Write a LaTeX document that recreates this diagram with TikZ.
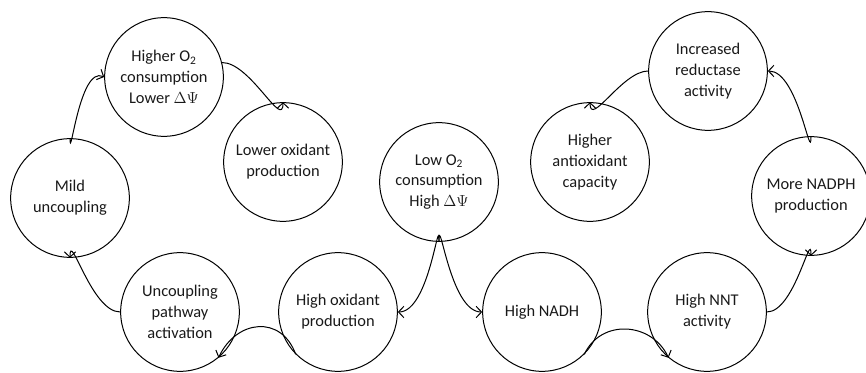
\documentclass[tikz,border=0pt]{standalone}
\usepackage{fontspec}
\setmainfont{Carlito}
\usetikzlibrary{arrows.meta}

\tikzset{every picture/.style={line width=0.75pt}}
\tikzset{
  bubble/.style={circle, draw, minimum size=89pt, inner sep=0pt, align=center,
    font=\fontsize{12.3}{15.6}\selectfont, text=black!90},
  flow/.style={-{Straight Barb[length=4pt,width=8.5pt]}}
}

\begin{document}
\begin{tikzpicture}[x=0.75pt,y=0.75pt,yscale=-1,xscale=1]

\clip (0,0) rectangle (866,373);

% left loop
\node [bubble] (higher) at (164,77) {Higher O\textsubscript{2}\\consumption\\Lower $\Delta\Psi$};
\node [bubble] (lower) at (283,162) {Lower oxidant\\production};
\node [bubble] (mild) at (70,198) {Mild\\uncoupling};
\node [bubble] (uncpl) at (180,312) {Uncoupling\\pathway\\activation};
\node [bubble] (hiox) at (338,312) {High oxidant\\production};
% middle
\node [bubble] (lowox) at (439,182) {Low O\textsubscript{2}\\consumption\\High $\Delta\Psi$};
% right loop
\node [bubble] (anti) at (590,162) {Higher\\antioxidant\\capacity};
\node [bubble] (nadh) at (542,312) {High NADH};
\node [bubble] (nnt) at (707,312) {High NNT\\activity};
\node [bubble] (nadph) at (811,196) {More NADPH\\production};
\node [bubble] (reduct) at (708,71) {Increased\\reductase\\activity};

\draw [flow] (lowox.south) to[out=-90,in=0] (hiox.east);
\draw [flow] (lowox.south) to[out=-90,in=180] (nadh.west);

\draw [flow] (hiox.-135) to[out=-110,in=-65,looseness=1.4] (uncpl.-50);
\draw [flow] (uncpl.west) to[out=180,in=-90] (mild.south);
\draw [flow] (mild.north) to[out=90,in=205] (higher.west);
\draw [flow] (higher.14) to[out=0,in=90] (lower.north);

\draw [flow] (nadh.-45) to[out=-65,in=-115,looseness=1.2] (nnt.-130);
\draw [flow] (nnt.east) to[out=0,in=-90] (nadph.south);
\draw [flow] (nadph.north) to[out=90,in=0] (reduct.east);
\draw [flow] (reduct.west) to[out=180,in=90] (anti.north);

\end{tikzpicture}
\end{document}
